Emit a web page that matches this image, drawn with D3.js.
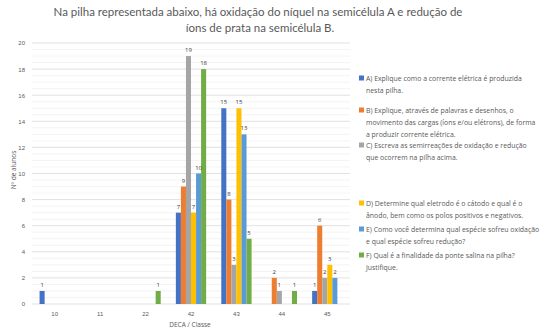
<!DOCTYPE html>
<html>
<head>
<meta charset="utf-8">
<script src="https://cdn.jsdelivr.net/npm/d3@7"></script>
<style>
  body { margin: 0; background: #fff; }
  svg { display: block; font-family: "Open Sans", "Noto Sans", sans-serif; }
</style>
</head>
<body>
<svg id="chart" width="550" height="332"></svg>
<script>
// data
const classes = ["10", "11", "22", "42", "43", "44", "45"];
const seriesNames = ["A", "B", "C", "D", "E", "F"];
const seriesA = [1, 0, 0, 7, 15, 0, 1];
const seriesB = [0, 0, 0, 9, 8, 2, 6];
const seriesC = [0, 0, 0, 19, 3, 1, 2];
const seriesD = [0, 0, 0, 7, 15, 0, 3];
const seriesE = [0, 0, 0, 10, 13, 0, 2];
const seriesF = [0, 0, 1, 18, 5, 1, 0];
const legendLines = [
  ["A) Explique como a corrente elétrica é produzida", "nesta pilha."],
  ["B) Explique, através de palavras e desenhos, o", "movimento das cargas (íons e/ou elétrons), de forma", "a produzir corrente elétrica."],
  ["C) Escreva as semirreações de oxidação e redução", "que ocorrem na pilha acima."],
  ["D) Determine qual eletrodo é o cátodo e qual é o", "ânodo, bem como os polos positivos e negativos."],
  ["E) Como você determina qual espécie sofreu oxidação", "e qual espécie sofreu redução?"],
  ["F) Qual é a finalidade da ponte salina na pilha?", "Justifique."]
];
const allSeries = [seriesA, seriesB, seriesC, seriesD, seriesE, seriesF];

const colors = ["#4472C4", "#ED7D31", "#A5A5A5", "#FFC000", "#5B9BD5", "#70AD47"];

const svg = d3.select("#chart");
const margin = {left: 32, right: 200, top: 43, bottom: 28};
const W = 550, H = 332;

// title
const title = svg.append("g").attr("fill", "#595959").attr("font-size", 11.5)
  .attr("font-family", "Lato, 'Open Sans', sans-serif")
  .attr("text-anchor", "middle");
title.append("text").attr("x", 258).attr("y", 16)
  .text("Na pilha representada abaixo, há oxidação do níquel na semicélula A e redução de");
title.append("text").attr("x", 260).attr("y", 32)
  .text("íons de prata na semicélula B.");

const x = d3.scaleBand().domain(classes).range([margin.left, W - margin.right]).paddingInner(0).paddingOuter(0);
const xs = d3.scaleBand().domain(seriesNames).range([x.bandwidth() / 6, x.bandwidth() * 5 / 6]);
const y = d3.scaleLinear().domain([0, 20]).range([H - margin.bottom, margin.top]);

// gridlines (minor every 0.5, major every 2)
const grid = svg.append("g");
grid.selectAll("line.minor").data(d3.range(0.5, 20, 0.5).filter(v => v % 2 !== 0))
  .join("line").attr("class", "minor")
  .attr("x1", margin.left).attr("x2", W - margin.right)
  .attr("y1", d => y(d)).attr("y2", d => y(d))
  .attr("stroke", "#f0f0f0").attr("stroke-width", 0.8);
grid.selectAll("line.major").data(d3.range(2, 21, 2))
  .join("line").attr("class", "major")
  .attr("x1", margin.left).attr("x2", W - margin.right)
  .attr("y1", d => y(d)).attr("y2", d => y(d))
  .attr("stroke", "#d9d9d9").attr("stroke-width", 0.8);

// y axis
const yAxis = svg.append("g").attr("transform", `translate(${margin.left},0)`)
  .call(d3.axisLeft(y).tickValues(d3.range(0, 21, 2)).tickSize(0).tickPadding(7));
yAxis.select(".domain").remove();
yAxis.selectAll("text").attr("fill", "#595959").attr("font-size", 6);

// x axis
svg.append("line").attr("x1", margin.left).attr("x2", W - margin.right)
  .attr("y1", y(0)).attr("y2", y(0)).attr("stroke", "#d9d9d9").attr("stroke-width", 0.8);
const xAxis = svg.append("g").attr("transform", `translate(0,${y(0)})`)
  .call(d3.axisBottom(x).tickSize(0).tickPadding(8));
xAxis.select(".domain").remove();
xAxis.selectAll("text").attr("fill", "#595959").attr("font-size", 6);

// axis titles
svg.append("text").attr("x", 190).attr("y", 327).attr("text-anchor", "middle")
  .attr("fill", "#595959").attr("font-size", 6.5).text("DECA / Classe");
svg.append("text").attr("transform", "translate(16,170) rotate(-90)").attr("text-anchor", "middle")
  .attr("fill", "#595959").attr("font-size", 6.5).text("Nº de alunos");

// bars
const rows = [];
allSeries.forEach((vals, si) => {
  vals.forEach((v, ci) => {
    if (v > 0) rows.push({s: seriesNames[si], si: si, c: classes[ci], v: v});
  });
});

svg.append("g").selectAll("rect").data(rows).join("rect")
  .attr("x", d => x(d.c) + xs(d.s))
  .attr("y", d => y(d.v))
  .attr("width", xs.bandwidth())
  .attr("height", d => y(0) - y(d.v))
  .attr("fill", d => colors[d.si]);

svg.append("g").selectAll("text").data(rows).join("text")
  .attr("x", d => x(d.c) + xs(d.s) + xs.bandwidth() / 2)
  .attr("y", d => y(d.v) - 4)
  .attr("text-anchor", "middle")
  .attr("font-size", 6)
  .attr("fill", "#404040")
  .text(d => d.v);

// legend
const legendY = [80, 112, 147, 205, 231, 257];
const legend = svg.append("g");
legendLines.forEach((lines, i) => {
  const g = legend.append("g").attr("transform", `translate(359,${legendY[i]})`);
  g.append("rect").attr("x", 0).attr("y", -4.5).attr("width", 5).attr("height", 5).attr("fill", colors[i]);
  g.selectAll("text").data(lines).join("text")
    .attr("x", 7).attr("y", (d, k) => k * 12 + 0.5)
    .attr("font-size", 6.9).attr("fill", "#595959")
    .text(d => d);
});
</script>
</body>
</html>
